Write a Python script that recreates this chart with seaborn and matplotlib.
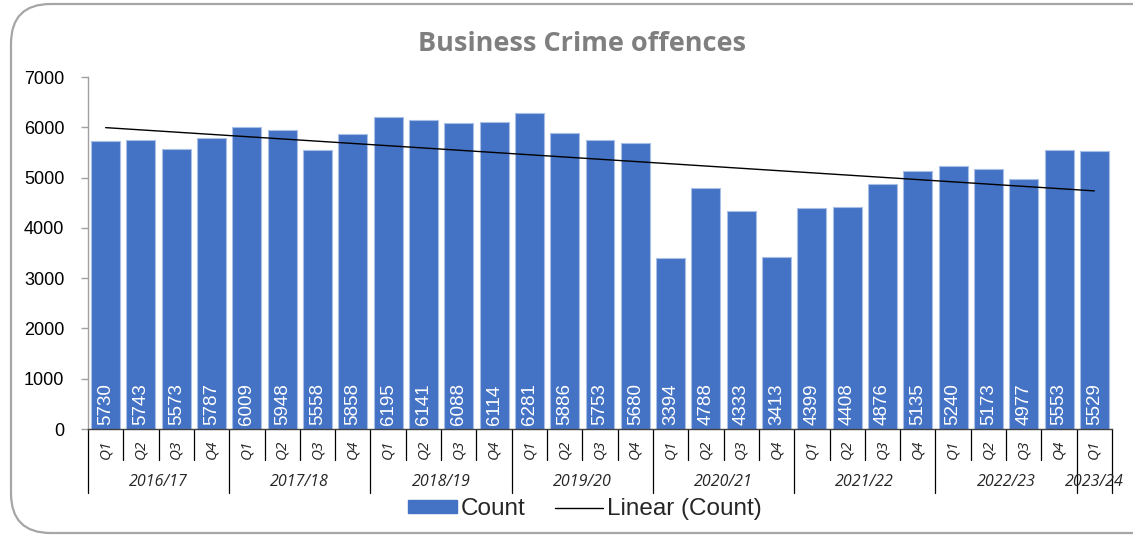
import numpy as np
import matplotlib
matplotlib.use("Agg")
import matplotlib.pyplot as plt
import matplotlib.transforms as mtransforms
from matplotlib.patches import Patch, FancyBboxPatch
from matplotlib.lines import Line2D
import seaborn as sns

# data
years = ["2016/17", "2017/18", "2018/19", "2019/20", "2020/21", "2021/22", "2022/23", "2023/24"]
quarters = ["Q1", "Q2", "Q3", "Q4"] * 7 + ["Q1"]
year_of_bar = [y for y in years[:-1] for _ in range(4)] + ["2023/24"]
counts = [5730, 5743, 5573, 5787,
          6009, 5948, 5558, 5858,
          6195, 6141, 6088, 6114,
          6281, 5886, 5753, 5680,
          3394, 4788, 4333, 3413,
          4399, 4408, 4876, 5135,
          5240, 5173, 4977, 5553,
          5529]
labels = [f"{y} {q}" for y, q in zip(year_of_bar, quarters)]

BLUE = "#4472C4"

sns.set_theme(style="white")
plt.rcParams["font.family"] = ["Liberation Sans", "DejaVu Sans"]

W, H = 1133, 539
fig = plt.figure(figsize=(W / 100, H / 100), dpi=100)

# rounded chart border
border = FancyBboxPatch((11 / W, 6 / H), 1.2, (535 - 6) / H,
                        boxstyle="round,pad=0,rounding_size=0.035",
                        transform=fig.transFigure, facecolor="white",
                        edgecolor="#a6a6a6", linewidth=1.6, zorder=-5,
                        mutation_aspect=W / H)
fig.patches.append(border)

ax = fig.add_axes([88 / W, 1 - 429 / H, (1112 - 88) / W, (429 - 77) / H])
ax.patch.set_alpha(0)

sns.barplot(x=labels, y=counts, color=BLUE, saturation=1, width=0.82,
            edgecolor="#a9bfe8", linewidth=0.8, ax=ax)

idx = np.arange(len(counts))
sns.regplot(x=idx, y=counts, scatter=False, ci=None, color="black",
            line_kws=dict(lw=1.0), truncate=True, ax=ax)

for i, v in enumerate(counts):
    ax.annotate(str(v), (i, 0), xytext=(0, 3), textcoords="offset points",
                rotation=90, ha="center", va="bottom", color="white",
                fontsize=13.5)

ax.set_xlim(-0.5, len(counts) - 0.5)
ax.set_ylim(0, 7000)
ax.set_yticks(range(0, 7001, 1000))
ax.tick_params(axis="y", labelsize=13, colors="black", length=5,
               width=1, color="#a0a0a0", left=True, pad=12)
ax.set_xticks([])
ax.set_xlabel("")
ax.set_ylabel("")
for s in ["top", "right"]:
    ax.spines[s].set_visible(False)
ax.spines["left"].set_color("#a0a0a0")
ax.spines["left"].set_linewidth(1)
ax.spines["bottom"].set_color("#404040")
ax.spines["bottom"].set_linewidth(1)

# multi-level category axis
tr = mtransforms.blended_transform_factory(ax.transData, fig.transFigure)
y0 = 1 - 429 / H
yq = 1 - 460 / H
yy = 1 - 493 / H
for i in range(len(counts) + 1):
    b = i - 0.5
    bottom = yy if (i % 4 == 0 or i == len(counts)) else yq
    ax.add_line(Line2D([b, b], [y0, bottom], transform=tr, color="black",
                       lw=0.9, clip_on=False))
for i, q in enumerate(quarters):
    ax.text(i, 1 - 449 / H, q, transform=tr, rotation=90, ha="center",
            va="center", fontsize=11, style="italic",
            family=["Open Sans", "DejaVu Sans"])
for k, y in enumerate(years):
    first = k * 4
    last = min(first + 3, len(counts) - 1)
    ax.text((first + last) / 2, 1 - 482 / H, y, transform=tr, ha="center",
            va="center", fontsize=11.5, style="italic",
            family=["Open Sans", "DejaVu Sans"])

fig.text(582 / W, 1 - 44 / H, "Business Crime offences", ha="center",
         va="center", fontsize=19.5, fontweight="bold", color="#7f7f7f",
         family="Open Sans")

handles = [Patch(facecolor=BLUE, edgecolor=BLUE),
           Line2D([], [], color="black", lw=1)]
fig.legend(handles, ["Count", "Linear (Count)"], loc="center",
           bbox_to_anchor=(585 / W, 1 - 509 / H), ncol=2, frameon=False,
           fontsize=17.5, handlelength=2.0, handleheight=0.42,
           handletextpad=0.15, columnspacing=1.2, borderpad=0)

fig.savefig("out.png", dpi=100)
